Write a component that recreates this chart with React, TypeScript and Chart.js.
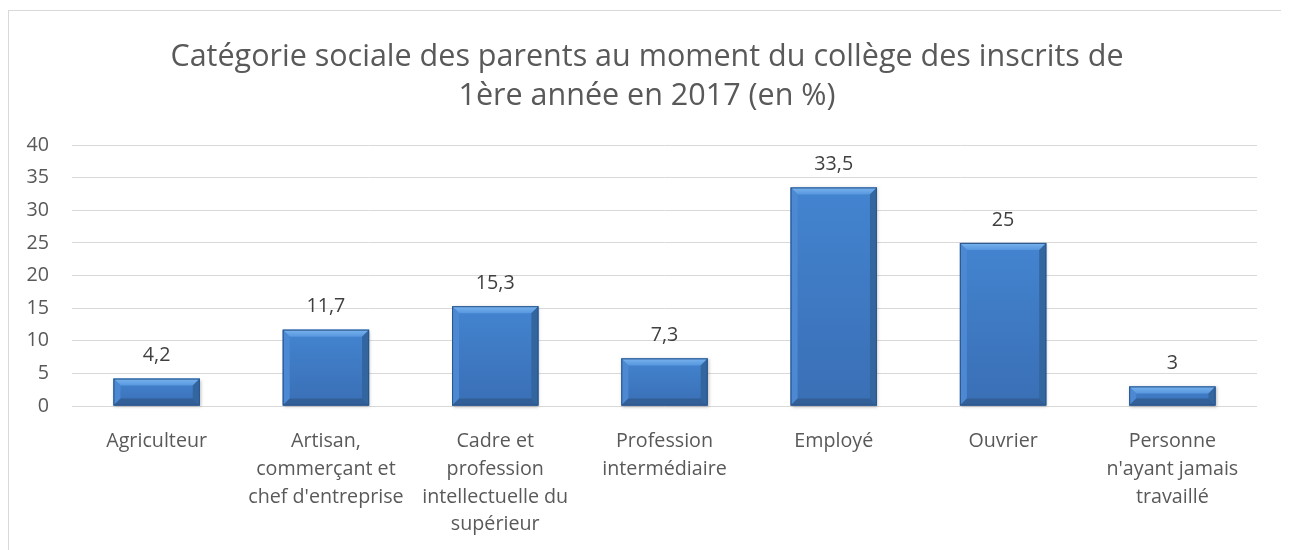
import React, { useEffect, useRef } from "react";
import { Chart, registerables } from "chart.js";

Chart.register(...registerables);

const TITLE_LINES = [
  "Catégorie sociale des parents au moment du collège des inscrits de",
  "1ère année en 2017 (en %)",
];

const CATEGORIES: (string | string[])[] = [
  "Agriculteur",
  ["Artisan,", "commerçant et", "chef d'entreprise"],
  ["Cadre et", "profession", "intellectuelle du", "supérieur"],
  ["Profession", "intermédiaire"],
  "Employé",
  "Ouvrier",
  ["Personne", "n'ayant jamais", "travaillé"],
];

const VALUES = [4.2, 11.7, 15.3, 7.3, 33.5, 25, 3];

const Y_MIN = 0;
const Y_MAX = 40;
const Y_STEP = 5;

const FONT = "'Open Sans', 'Liberation Sans', sans-serif";
const TEXT_COLOR = "#595959";
const LABEL_SIZE = 19.7;

const bevelPlugin = {
  id: "bevelBars",
  afterDatasetsDraw(chart: any) {
    const ctx = chart.ctx;
    const meta = chart.getDatasetMeta(0);
    ctx.save();
    meta.data.forEach((bar: any, i: number) => {
      const w = bar.width;
      const left = bar.x - w / 2;
      const right = bar.x + w / 2;
      const top = bar.y;
      const bottom = bar.base;
      const h = bottom - top;
      const b = Math.min(7, h / 2);

      ctx.save();
      ctx.shadowColor = "rgba(0,0,0,0.25)";
      ctx.shadowBlur = 3;
      ctx.shadowOffsetX = 1;
      ctx.shadowOffsetY = 1;
      ctx.fillStyle = "#3b77c2";
      ctx.fillRect(left, top, w, h);
      ctx.restore();

      const g = ctx.createLinearGradient(0, top, 0, bottom);
      g.addColorStop(0, "#4384d0");
      g.addColorStop(1, "#3a6fb5");
      ctx.fillStyle = g;
      ctx.fillRect(left, top, w, h);

      const gt = ctx.createLinearGradient(0, top, 0, top + b);
      gt.addColorStop(0, "#7ab4ef");
      gt.addColorStop(1, "#5797de");
      ctx.fillStyle = gt;
      ctx.beginPath();
      ctx.moveTo(left, top);
      ctx.lineTo(right, top);
      ctx.lineTo(right - b, top + b);
      ctx.lineTo(left + b, top + b);
      ctx.closePath();
      ctx.fill();

      ctx.fillStyle = "#4c89d2";
      ctx.beginPath();
      ctx.moveTo(left, top);
      ctx.lineTo(left + b, top + b);
      ctx.lineTo(left + b, bottom - b);
      ctx.lineTo(left, bottom);
      ctx.closePath();
      ctx.fill();

      ctx.fillStyle = "#33659f";
      ctx.beginPath();
      ctx.moveTo(right, top);
      ctx.lineTo(right - b, top + b);
      ctx.lineTo(right - b, bottom - b);
      ctx.lineTo(right, bottom);
      ctx.closePath();
      ctx.fill();

      ctx.fillStyle = "#325f98";
      ctx.beginPath();
      ctx.moveTo(left, bottom);
      ctx.lineTo(left + b, bottom - b);
      ctx.lineTo(right - b, bottom - b);
      ctx.lineTo(right, bottom);
      ctx.closePath();
      ctx.fill();

      ctx.strokeStyle = "#2a5589";
      ctx.lineWidth = 1;
      ctx.strokeRect(left + 0.5, top + 0.5, w - 1, h - 1);

      ctx.fillStyle = "#404040";
      ctx.font = `${LABEL_SIZE}px ${FONT}`;
      ctx.textAlign = "center";
      ctx.textBaseline = "middle";
      ctx.fillText(String(VALUES[i]).replace(".", ","), bar.x, top - 23);
    });
    ctx.restore();
  },
};

export default function App() {
  const ref = useRef<HTMLCanvasElement>(null);

  useEffect(() => {
    document.documentElement.style.overflow = "hidden";
    document.body.style.overflow = "hidden";
    if (!ref.current) return;
    const chart = new Chart(ref.current, {
      type: "bar",
      data: {
        labels: CATEGORIES,
        datasets: [
          {
            data: VALUES,
            backgroundColor: "rgba(0,0,0,0)",
            borderWidth: 0,
            barPercentage: 0.51,
            categoryPercentage: 1,
          },
        ],
      },
      options: {
        animation: false,
        responsive: false,
        devicePixelRatio: 1,
        layout: { padding: 0 },
        plugins: {
          legend: { display: false },
          tooltip: { enabled: false },
          title: {
            display: true,
            text: TITLE_LINES,
            color: TEXT_COLOR,
            font: { family: FONT, size: 30.5, weight: "normal", lineHeight: 1.28 },
            padding: { top: 27, bottom: 29 },
          },
        },
        scales: {
          x: {
            grid: { display: false, drawTicks: false },
            border: { display: false },
            ticks: {
              color: TEXT_COLOR,
              font: { family: FONT, size: LABEL_SIZE, lineHeight: 1.4 },
              padding: 22,
              maxRotation: 0,
              autoSkip: false,
            },
            afterFit(scale: any) {
              scale.height = 150;
            },
          },
          y: {
            min: Y_MIN,
            max: Y_MAX,
            grid: { color: "#d9d9d9", lineWidth: 1, drawTicks: false },
            border: { display: false },
            ticks: {
              stepSize: Y_STEP,
              color: TEXT_COLOR,
              font: { family: FONT, size: LABEL_SIZE },
              padding: 23,
            },
            afterFit(scale: any) {
              scale.width = 63;
            },
          },
          spacer: {
            type: "linear",
            position: "right",
            display: true,
            grid: { display: false, drawTicks: false },
            border: { display: false },
            ticks: { display: false },
            afterFit(scale: any) {
              scale.width = 28;
            },
          },
        },
      },
      plugins: [bevelPlugin],
    });
    return () => chart.destroy();
  }, []);

  return (
    <div
      style={{
        marginTop: 2,
        width: 1276,
        height: 545,
        border: "1px solid #d9d9d9",
        background: "#fff",
      }}
    >
      <canvas ref={ref} width={1276} height={545} style={{ display: "block" }} />
    </div>
  );
}
